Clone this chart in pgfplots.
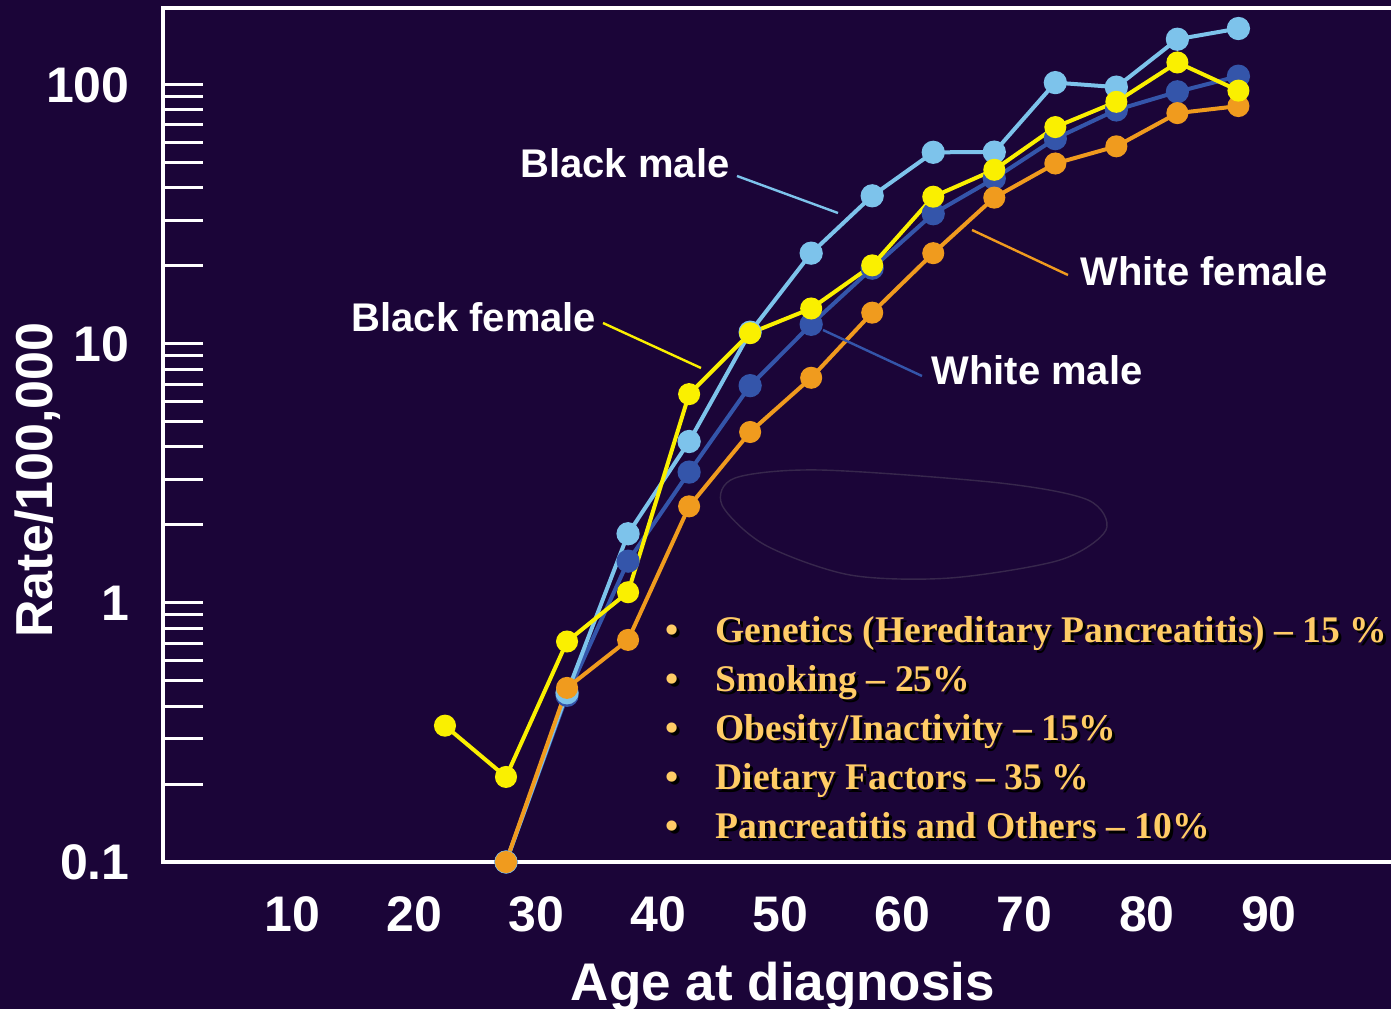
\documentclass[border=0pt]{standalone}
\usepackage{pgfplots}
\pgfplotsset{compat=1.18}
\usepackage{fontspec}
\setmainfont{Liberation Sans}
\newfontfamily\seriffont{Liberation Serif}
\definecolor{bg}{RGB}{27,5,56}
\definecolor{lb}{RGB}{125,195,235}
\definecolor{mb}{RGB}{52,85,170}
\definecolor{yl}{RGB}{250,240,0}
\definecolor{og}{RGB}{240,155,30}
\definecolor{gold}{RGB}{255,204,102}
\newcommand\bul[2]{%
  \node[anchor=base,inner sep=0pt,text=black] at (675,#1+3) {\bulfont •};
  \node[anchor=base,inner sep=0pt,text=gold] at (672,#1) {\bulfont •};
  \node[anchor=base west,inner sep=0pt,text=black] at (718,#1+3) {\bulfont #2};
  \node[anchor=base west,inner sep=0pt,text=gold] at (715,#1) {\bulfont #2};}
\newcommand\bulfont{\seriffont\bfseries\fontsize{18.8}{22}\selectfont}
\begin{document}
\begin{tikzpicture}
\begin{scope}[x=0.5pt,y=-0.5pt,shift={(-163,-862)}]
  \path[use as bounding box, fill=bg] (0,0) rectangle (1391,1009);
  \draw[white, line width=2pt] (1391,8) -- (163,8) -- (163,862) -- (1391,862);
  \draw[gray!28!bg, line width=0.7pt] plot[smooth cycle] coordinates {(735,478) (820,470) (1000,483) (1088,500) (1106,530) (1060,560) (950,578) (850,575) (765,545) (722,505)};
\end{scope}
\begin{axis}[
  at={(0,0)}, anchor=south west,
  scale only axis, width=614pt, height=427pt,
  ymode=log, xmin=-0.6, xmax=100, ymin=0.1, ymax=198,
  axis lines*=left, axis line style={draw=none},
  clip=false,
  xtick={10,20,30,40,50,60,70,80,90},
  xticklabels={10,20,30,40,50,60,70,80,90},
  ytick={0.1,1,10,100},
  yticklabels={0.1,1,10,100},
  minor ytick={0.2,0.3,0.4,0.5,0.6,0.7,0.8,0.9,2,3,4,5,6,7,8,9,20,30,40,50,60,70,80,90},
  /pgf/number format/assume math mode=true,
  tick align=inside,
  major tick length=20pt, minor tick length=20pt,
  tick style={white, line width=1.5pt},
  every x tick/.append style={draw=none},
  yticklabel style={text=white, font=\fontsize{25}{30}\selectfont\bfseries, anchor=east, inner sep=0pt, xshift=-16.5pt},
  xticklabel style={text=white, font=\fontsize{25}{30}\selectfont\bfseries, anchor=north, inner sep=0pt, yshift=-17pt},
]
% White male
\addplot[mb, line width=2pt, mark=*, mark size=4.8pt, mark options={fill=mb, draw=mb}] table {
x y
27.5 0.1
32.5 0.44
37.5 1.45
42.5 3.2
47.5 6.9
52.5 11.9
57.5 19.6
62.5 31.8
67.5 43.5
72.5 62
77.5 80
82.5 94
87.5 108
};
% Black male
\addplot[lb, line width=2pt, mark=*, mark size=4.8pt, mark options={fill=lb, draw=lb}] table {
x y
27.5 0.1
32.5 0.45
37.5 1.85
42.5 4.2
47.5 11.1
52.5 22.4
57.5 37.3
62.5 54.9
67.5 55
72.5 102
77.5 98
82.5 150
87.5 165
};
% White female
\addplot[og, line width=2pt, mark=*, mark size=4.5pt, mark options={fill=og, draw=og}] table {
x y
27.5 0.1
32.5 0.47
37.5 0.72
42.5 2.36
47.5 4.57
52.5 7.4
57.5 13.2
62.5 22.4
67.5 36.7
72.5 49.7
77.5 57.9
82.5 77.8
87.5 82.8
};
% Black female
\addplot[yl, line width=2pt, mark=*, mark size=4.5pt, mark options={fill=yl, draw=yl}] table {
x y
22.5 0.336
27.5 0.213
32.5 0.71
37.5 1.10
42.5 6.4
47.5 11.0
52.5 13.7
57.5 20.1
62.5 37
67.5 47
72.5 68.7
77.5 86
82.5 122
87.5 95
};
\end{axis}
\begin{scope}[x=0.5pt,y=-0.5pt,shift={(-163,-862)}]
  \node[rotate=90, anchor=base, text=white, font=\fontsize{26}{30}\selectfont\bfseries] at (53,480) {Rate/100,000};
  \node[anchor=base, text=white, font=\fontsize{26.5}{30}\selectfont\bfseries] at (783,1000) {Age at diagnosis};
  \begin{scope}[text=white, font=\fontsize{20}{24}\selectfont\bfseries]
    \node at (625,163) {Black male};
    \node at (1204,271) {White female};
    \node at (474,317) {Black female};
    \node at (1037,370) {White male};
  \end{scope}
  \draw[lb, line width=1.2pt] (737,176) -- (838,213);
  \draw[og, line width=1.2pt] (1068,275) -- (972,230);
  \draw[yl, line width=1.2pt] (603,323) -- (701,368);
  \draw[mb, line width=1.2pt] (922,376) -- (823,330);
  \bul{642}{Genetics (Hereditary Pancreatitis) – 15 \%}
  \bul{691}{Smoking – 25\%}
  \bul{740}{Obesity/Inactivity – 15\%}
  \bul{789}{Dietary Factors – 35 \%}
  \bul{838}{Pancreatitis and Others – 10\%}
\end{scope}
\end{tikzpicture}
\end{document}
